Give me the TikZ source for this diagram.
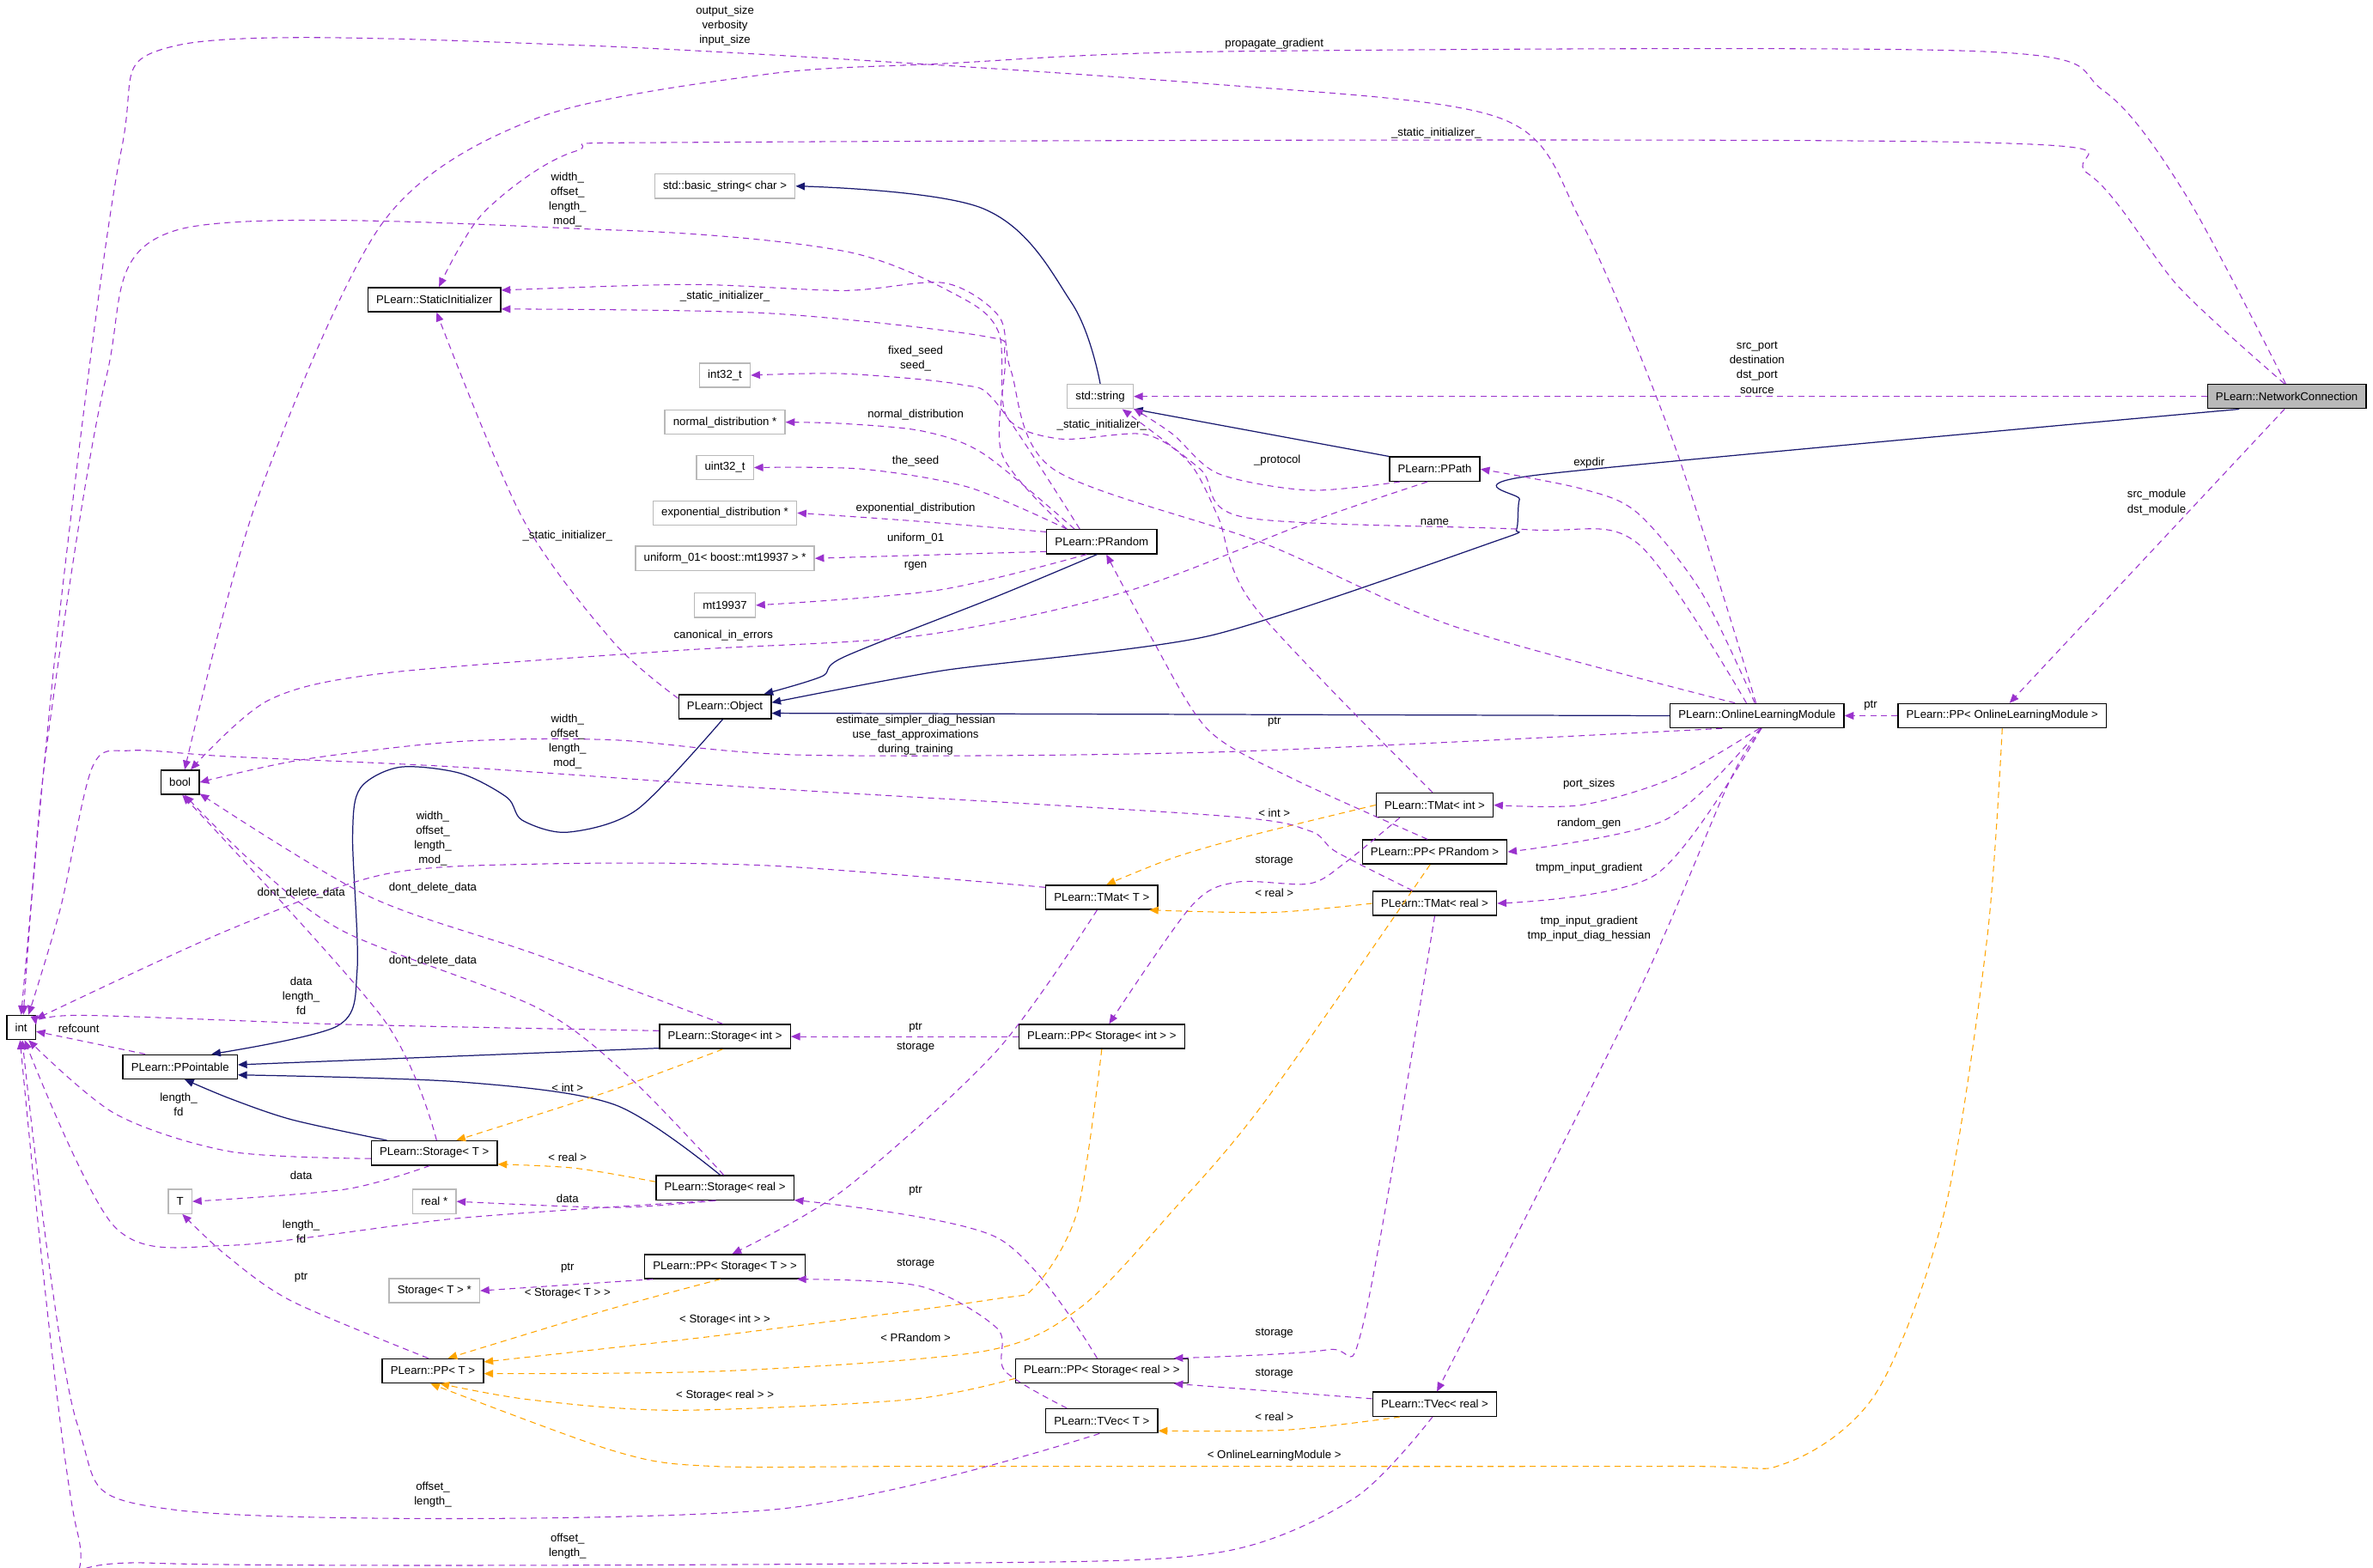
\documentclass[tikz,border=0pt]{standalone}
\usepackage{fontspec}
\setmainfont{Liberation Sans}
\usetikzlibrary{arrows.meta}
\definecolor{pu}{HTML}{9A32CD}
\definecolor{orr}{HTML}{FFA500}
\definecolor{mb}{HTML}{191970}
\tikzset{
 box/.style={draw=black,fill=white,line width=0.8pt,font=\fontsize{7.5}{9}\selectfont,minimum height=16pt,inner xsep=5.5pt,inner ysep=2pt},
 gbox/.style={box,draw=gray!55},
 ncbox/.style={box,fill=gray!55},
 lab/.style={font=\fontsize{7.5}{9.7}\selectfont,align=center,inner sep=0pt},
 pe/.style={draw=pu,line width=0.6pt,dash pattern=on 4pt off 3pt,-{Triangle[length=6pt,width=5pt]}},
 oe/.style={draw=orr,line width=0.6pt,dash pattern=on 4pt off 3pt,-{Triangle[length=6pt,width=5pt]}},
 be/.style={draw=mb,line width=0.7pt,-{Triangle[length=6pt,width=5pt]}},
}
\begin{document}
\begin{tikzpicture}[x=1pt,y=-1pt]
\useasboundingbox[fill=white] (0,0) rectangle (1568,1036);
% nodes
\node[ncbox] (nc) at (1511,262) {PLearn::NetworkConnection};
\node[gbox] (bstr) at (479,123) {std::basic\_string< char >};
\node[box] (si) at (287,198) {PLearn::StaticInitializer};
\node[gbox] (i32) at (479,248) {int32\_t};
\node[gbox] (nd) at (479,279) {normal\_distribution *};
\node[gbox] (u32) at (479,309) {uint32\_t};
\node[gbox] (ed) at (479,339) {exponential\_distribution *};
\node[gbox] (uni) at (479,369) {uniform\_01< boost::mt19937 > *};
\node[gbox] (mt) at (479,400) {mt19937};
\node[gbox] (str) at (727,262) {std::string};
\node[box] (ppath) at (948,310) {PLearn::PPath};
\node[box] (prand) at (728,358) {PLearn::PRandom};
\node[box] (obj) at (479,467) {PLearn::Object};
\node[box] (olm) at (1161,473) {PLearn::OnlineLearningModule};
\node[box] (ppolm) at (1323,473) {PLearn::PP< OnlineLearningModule >};
\node[box] (nbool) at (119,517) {bool};
\node[box] (tmi) at (948,532) {PLearn::TMat< int >};
\node[box] (ppr) at (948,563) {PLearn::PP< PRandom >};
\node[box] (tmt) at (728,593) {PLearn::TMat< T >};
\node[box] (tmr) at (948,597) {PLearn::TMat< real >};
\node[box] (nint) at (14,679) {int};
\node[box] (sti) at (479,685) {PLearn::Storage< int >};
\node[box] (ppsi) at (728,685) {PLearn::PP< Storage< int > >};
\node[box] (ppo) at (119,705) {PLearn::PPointable};
\node[box] (stt) at (287,762) {PLearn::Storage< T >};
\node[box] (strl) at (479,785) {PLearn::Storage< real >};
\node[gbox] (tnode) at (119,794) {T};
\node[gbox] (realp) at (287,794) {real *};
\node[box] (ppst) at (479,837) {PLearn::PP< Storage< T > >};
\node[gbox] (stp) at (287,853) {Storage< T > *};
\node[box] (ppT) at (286,906) {PLearn::PP< T >};
\node[box] (ppsr) at (728,906) {PLearn::PP< Storage< real > >};
\node[box] (tvt) at (728,939) {PLearn::TVec< T >};
\node[box] (tvr) at (948,928) {PLearn::TVec< real >};
% blue inheritance
\draw[be] plot[smooth,tension=0.6] coordinates {(str.north) (708,200) (650,138) (bstr.east)};
\draw[be] (ppath.north west) -- (str.south east);
\draw[be] plot[smooth,tension=0.4] coordinates {(nc.195) (1015,314) (1004,330) (1002,350) (990,357) (800,420) (624,443) (obj.5)};
\draw[be] plot[smooth,tension=0.5] coordinates {(prand.250) (659,394) (558,434) (543,447) (obj.18)};
\draw[be] (olm.west) -- (obj.-8);
\draw[be] plot[smooth,tension=0.5] coordinates {(obj.260) (421,535) (375,550) (345,542) (335,527) (304,511) (264,507) (238,521) (233,553) (236,641) (223,678) (ppo.22)};
\draw[be] (sti.190) -- (ppo.2);
\draw[be] plot[smooth,tension=0.5] coordinates {(strl.110) (406,730) (304,715) (ppo.-8)};
\draw[be] plot[smooth,tension=0.5] coordinates {(stt.165) (193,740) (152,726) (ppo.290)};
% orange templates
\draw[oe] plot[smooth,tension=0.5] coordinates {(tmi.west) (823,553) (775,567) (tmt.70)};
\node[lab] (l1) at (842,537) {< int >};
\draw[oe] plot[smooth,tension=0.5] coordinates {(tmr.west) (840,603) (tmt.-15)};
\node[lab] (l2) at (842,590) {< real >};
\draw[oe] plot[smooth,tension=0.5] coordinates {(sti.260) (400,722) (stt.30)};
\node[lab] (l3) at (375,719) {< int >};
\draw[oe] plot[smooth,tension=0.5] coordinates {(strl.175) (380,772) (stt.-10)};
\node[lab] (l4) at (375,765) {< real >};
\draw[oe] plot[smooth,tension=0.5] coordinates {(ppst.250) (400,866) (ppT.40)};
\node[lab] (l5) at (375,855) {< Storage< T > >};
\draw[oe] plot[smooth,tension=0.5] coordinates {(ppsi.south) (712,800) (684,850) (654,859) (480,882) (ppT.10)};
\node[lab] (l6) at (479,872) {< Storage< int > >};
\draw[oe] plot[smooth,tension=0.5] coordinates {(ppr.250) (835,729) (775,800) (714,864) (650,893) (480,906) (ppT.-3)};
\node[lab] (l7) at (605,884) {< PRandom >};
\draw[oe] plot[smooth,tension=0.5] coordinates {(ppsr.185) (600,925) (446,932) (350,925) (ppT.-60)};
\node[lab] (l8) at (479,922) {< Storage< real > >};
\draw[oe] plot[smooth,tension=0.5] coordinates {(tvr.200) (850,945) (tvt.-10)};
\node[lab] (l9) at (842,936) {< real >};
\draw[oe] plot[smooth,tension=0.5] coordinates {(ppolm.south) (1313,620) (1285,800) (1240,920) (1180,967) (1100,969) (624,969) (471,969) (406,959) (ppT.-100)};
\node[lab] (l10) at (842,962) {< OnlineLearningModule >};
% purple members
\draw[pe] (nc.west) -- (str.east);
\node[lab] (l11) at (1161,243) {src\_port\\destination\\dst\_port\\source};
\draw[pe] plot[smooth,tension=0.5] coordinates {(nc.95) (1445,130) (1390,60) (1310,34) (811,34) (624,42) (507,49) (355,78) (253,147) (170,330) (nbool.70)};
\node[lab] (l12) at (842,29) {propagate\_gradient};
\draw[pe] plot[smooth,tension=0.5] coordinates {(nc.100) (1440,190) (1380,115) (1300,94) (471,94) (380,100) (320,140) (si.70)};
\node[lab] (l13) at (949,88) {\_static\_initializer\_};
\draw[pe] (nc.-100) -- (ppolm.60);
\node[lab] (l14) at (1425,332) {src\_module\\dst\_module};
\draw[pe] plot[smooth,tension=0.5] coordinates {(olm.95) (1106,293) (1045,147) (991,78) (794,55) (385,30) (117,30) (80,100) (40,400) (nint.north)};
\node[lab] (l15) at (479,17) {output\_size\\verbosity\\input\_size};
\draw[pe] plot[smooth,tension=0.5] coordinates {(olm.130) (1082,359) (1009,350) (823,342) (793,310) (str.-30)};
\node[lab] (l16) at (948,345) {name};
\draw[pe] plot[smooth,tension=0.5] coordinates {(olm.100) (1124,391) (1082,339) (1045,323) (ppath.east)};
\node[lab] (l17) at (1050,306) {expdir};
\draw[pe] plot[smooth,tension=0.5] coordinates {(olm.200) (805,497) (532,499) (405,489) (304,490) (200,502) (nbool.east)};
\node[lab] (l18) at (605,486) {estimate\_simpler\_diag\_hessian\\use\_fast\_approximations\\during\_training};
\draw[pe] plot[smooth,tension=0.5] coordinates {(olm.-80) (1106,514) (1045,532) (tmi.east)};
\node[lab] (l19) at (1050,518) {port\_sizes};
\draw[pe] plot[smooth,tension=0.5] coordinates {(olm.-75) (1100,542) (ppr.east)};
\node[lab] (l20) at (1050,544) {random\_gen};
\draw[pe] plot[smooth,tension=0.5] coordinates {(olm.-72) (1094,578) (tmr.east)};
\node[lab] (l21) at (1050,574) {tmpm\_input\_gradient};
\draw[pe] plot[smooth,tension=0.5] coordinates {(olm.-70) (1142,518) (1081,659) (tvr.80)};
\node[lab] (l22) at (1050,614) {tmp\_input\_gradient\\tmp\_input\_diag\_hessian};
\draw[pe] plot[smooth,tension=0.5] coordinates {(olm.150) (961,414) (835,359) (696,310) (668,245) (660,209) (624,187) (558,192) (456,188) (si.8)};
\node[lab] (l23) at (728,281) {\_static\_initializer\_};
\draw[pe] plot[smooth,tension=0.5] coordinates {(prand.160) (662,300) (664,235) (649,222) (507,207) (si.-8)};
\node[lab] (l24) at (479,196) {\_static\_initializer\_};
\draw[pe] plot[smooth,tension=0.5] coordinates {(prand.150) (659,267) (634,254) (558,247) (i32.east)};
\node[lab] (l25) at (605,237) {fixed\_seed\\seed\_};
\draw[pe] plot[smooth,tension=0.5] coordinates {(prand.155) (650,300) (610,285) (558,280) (nd.east)};
\node[lab] (l26) at (605,274) {normal\_distribution};
\draw[pe] plot[smooth,tension=0.5] coordinates {(prand.160) (640,322) (570,310) (u32.east)};
\node[lab] (l27) at (605,305) {the\_seed};
\draw[pe] plot[smooth,tension=0.5] coordinates {(prand.170) (600,344) (ed.east)};
\node[lab] (l28) at (605,336) {exponential\_distribution};
\draw[pe] (prand.190) -- (uni.east);
\node[lab] (l29) at (605,356) {uniform\_01};
\draw[pe] plot[smooth,tension=0.5] coordinates {(prand.220) (620,390) (mt.east)};
\node[lab] (l30) at (605,374) {rgen};
\draw[pe] plot[smooth,tension=0.5] coordinates {(obj.170) (405,424) (345,342) (si.-80)};
\node[lab] (l31) at (375,354) {\_static\_initializer\_};
\draw[pe] plot[smooth,tension=0.5] coordinates {(ppath.-160) (865,324) (805,313) (775,287) (str.-20)};
\node[lab] (l32) at (844,304) {\_protocol};
\draw[pe] plot[smooth,tension=0.5] coordinates {(ppath.-120) (865,345) (744,391) (608,420) (446,430) (253,445) (177,463) (nbool.50)};
\node[lab] (l33) at (478,420) {canonical\_in\_errors};
\draw[pe] plot[smooth,tension=0.5] coordinates {(ppr.120) (853,514) (798,482) (760,420) (prand.-70)};
\node[lab] (l34) at (842,477) {ptr};
\draw[pe] plot[smooth,tension=0.5] coordinates {(tmi.100) (829,401) (805,342) (786,306) (756,287) (700,290) (665,275) (660,220) (634,196) (558,166) (405,152) (117,152) (70,250) (30,500) (nint.80)};
\node[lab] (l35) at (375,132) {width\_\\offset\_\\length\_\\mod\_};
\draw[pe] plot[smooth,tension=0.5] coordinates {(tmt.170) (507,572) (355,571) (253,578) (150,615) (nint.30)};
\node[lab] (l36) at (286,554) {width\_\\offset\_\\length\_\\mod\_};
\draw[pe] plot[smooth,tension=0.5] coordinates {(tmr.150) (883,563) (865,549) (805,539) (507,521) (304,507) (152,500) (86,496) (61,507) (40,600) (nint.60)};
\node[lab] (l37) at (375,490) {width\_\\offset\_\\length\_\\mod\_};
\draw[pe] plot[smooth,tension=0.5] coordinates {(sti.100) (355,631) (243,592) (nbool.-30)};
\node[lab] (l38) at (286,587) {dont\_delete\_data};
\draw[pe] plot[smooth,tension=0.5] coordinates {(strl.95) (416,712) (355,666) (228,616) (167,570) (nbool.-70)};
\node[lab] (l39) at (286,635) {dont\_delete\_data};
\draw[pe] plot[smooth,tension=0.5] coordinates {(stt.80) (253,673) (nbool.-80)};
\node[lab] (l40) at (199,590) {dont\_delete\_data};
\draw[pe] plot[smooth,tension=0.5] coordinates {(sti.175) (228,677) (51,671) (nint.10)};
\node[lab] (l41) at (199,658) {data\\length\_\\fd};
\draw[pe] (ppo.160) -- (nint.-15);
\node[lab] (l42) at (52,680) {refcount};
\draw[pe] plot[smooth,tension=0.5] coordinates {(stt.185) (152,761) (76,736) (nint.-60)};
\node[lab] (l43) at (118,730) {length\_\\fd};
\draw[pe] plot[smooth,tension=0.5] coordinates {(stt.250) (228,786) (tnode.east)};
\node[lab] (l44) at (199,777) {data};
\draw[pe] plot[smooth,tension=0.5] coordinates {(strl.235) (406,798) (realp.east)};
\node[lab] (l45) at (375,792) {data};
\draw[pe] plot[smooth,tension=0.5] coordinates {(strl.-130) (304,805) (152,823) (76,811) (nint.-75)};
\node[lab] (l46) at (199,814) {length\_\\fd};
\draw[pe] (ppst.190) -- (stp.east);
\node[lab] (l47) at (375,838) {ptr};
\draw[pe] plot[smooth,tension=0.5] coordinates {(ppT.110) (193,860) (150,830) (tnode.-80)};
\node[lab] (l48) at (199,844) {ptr};
\draw[pe] (ppsi.west) -- (sti.east);
\node[lab] (l49) at (605,679) {ptr};
\draw[pe] plot[smooth,tension=0.5] coordinates {(tmt.-110) (659,694) (558,786) (ppst.60)};
\node[lab] (l50) at (605,692) {storage};
\draw[pe] plot[smooth,tension=0.5] coordinates {(tmi.200) (889,570) (865,584) (817,583) (787,599) (ppsi.60)};
\node[lab] (l51) at (842,569) {storage};
\draw[pe] plot[smooth,tension=0.5] coordinates {(ppsr.110) (659,818) (strl.-10)};
\node[lab] (l52) at (605,787) {ptr};
\draw[pe] plot[smooth,tension=0.5] coordinates {(tvt.160) (664,906) (659,878) (608,850) (ppst.-10)};
\node[lab] (l53) at (605,835) {storage};
\draw[pe] plot[smooth,tension=0.5] coordinates {(tmr.-90) (901,874) (877,892) (ppsr.10)};
\node[lab] (l54) at (842,881) {storage};
\draw[pe] (tvr.175) -- (ppsr.-10);
\node[lab] (l55) at (842,908) {storage};
\draw[pe] plot[smooth,tension=0.5] coordinates {(tvt.-100) (507,998) (117,998) (51,941) (nint.-85)};
\node[lab] (l56) at (286,988) {offset\_\\length\_};
\draw[pe] plot[smooth,tension=0.5] coordinates {(tvr.-100) (895,990) (805,1026) (624,1033) (101,1033) (51,1012) (nint.-95)};
\node[lab] (l57) at (375,1022) {offset\_\\length\_};
\draw[pe] (ppolm.west) -- (olm.east);
\node[lab] (l58) at (1236,466) {ptr};
\end{tikzpicture}
\end{document}
